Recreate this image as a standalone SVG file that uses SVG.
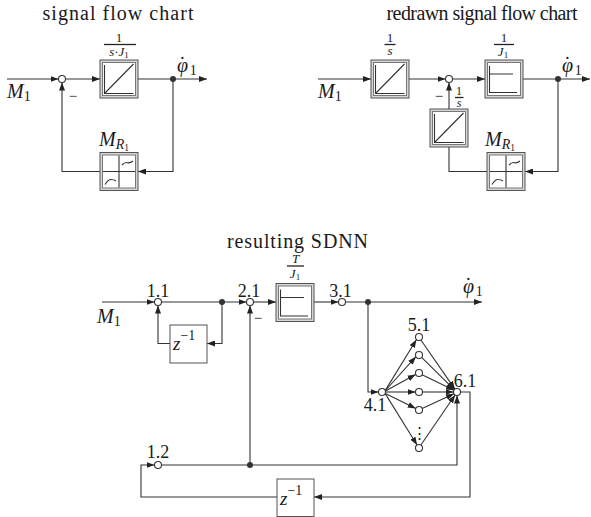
<svg xmlns="http://www.w3.org/2000/svg" xmlns:xlink="http://www.w3.org/1999/xlink" width="591" height="517" viewBox="0 0 591 517" font-family="'Liberation Serif', 'Times New Roman', Tinos, serif">
<style>
  .t{font-family:'Liberation Serif','Times New Roman',Tinos,serif;fill:#1a1a1a}
  .i{font-style:italic}
  .ln{fill:none;stroke:#333;stroke-width:1.1}
  .ar{fill:none;stroke:#333;stroke-width:1.1;marker-end:url(#ah)}
  .nd{fill:#fff;stroke:#333;stroke-width:1.1}
  .dot{fill:#333}
  .fb{stroke:#222;stroke-width:1.3}
  .sym{fill:none;stroke:#333;stroke-width:1.1}
</style>
<defs>
  <marker id="ah" viewBox="0 0 8 6" refX="8" refY="3" markerWidth="8" markerHeight="6" markerUnits="userSpaceOnUse" orient="auto">
    <path d="M0,0 L8,3 L0,6 z" fill="#222"/>
  </marker>
  <g id="dframe">
    <rect x="0" y="0" width="38" height="38" fill="#d6d6d6" stroke="#555" stroke-width="1"/>
    <rect x="2.5" y="2.5" width="33" height="33" fill="#fff" stroke="#777" stroke-width="1"/>
  </g>
  <g id="integ">
    <use xlink:href="#dframe"/>
    <path class="sym" d="M4.5,5 V33.5 H33.5 M4.5,33.5 L33.5,4"/>
  </g>
  <g id="prop">
    <use xlink:href="#dframe"/>
    <path class="sym" d="M4.5,6 V32.5 H32 M4.5,14 H28"/>
  </g>
  <g id="fric">
    <use xlink:href="#dframe"/>
    <path class="sym" d="M19,3 V35 M3,19 H35"/>
    <path class="sym" d="M22,12.5 Q25,9.5 27.5,10.2 T33,8.5"/>
    <path class="sym" d="M5,32 Q8,27 11,27 T16,28.5"/>
  </g>
</defs>

<!-- ============ signal flow chart ============ -->
<text class="t" x="118" y="19.5" font-size="20" text-anchor="middle" textLength="151" lengthAdjust="spacing">signal flow chart</text>

<g id="connectors-left">
  <path class="ar" d="M7,79 H58.5"/>
  <path class="ar" d="M65.5,79 H100"/>
  <path class="ar" d="M138,79 H207"/>
  <path class="ar" d="M173,79 V171.5 H138"/>
  <path class="ar" d="M100,171.5 H62 V82.5"/>
</g>
<g id="L_sum"><circle class="nd" cx="62" cy="79" r="3.5"/></g>
<g id="L_branch"><circle class="dot" cx="173" cy="79" r="3"/></g>
<g id="L_integrator">
  <use xlink:href="#integ" x="100" y="60"/>
  <text class="t" x="119" y="41.5" font-size="13" text-anchor="middle">1</text>
  <line class="fb" x1="104" y1="44.5" x2="136" y2="44.5"/>
  <text class="t" x="119" y="56" font-size="13" text-anchor="middle"><tspan class="i">s</tspan>·<tspan class="i">J</tspan><tspan font-size="9" dy="2">1</tspan></text>
</g>
<g id="L_friction">
  <use xlink:href="#fric" x="100" y="152.5"/>
  <text class="t" x="99" y="146" font-size="20"><tspan class="i">M</tspan><tspan class="i" font-size="14" dy="3">R</tspan><tspan font-size="9.5" dy="2">1</tspan></text>
</g>
<text class="t" x="7" y="98" font-size="20"><tspan class="i">M</tspan><tspan font-size="14" dy="3">1</tspan></text>
<text class="t" x="177" y="72" font-size="20"><tspan class="i">φ</tspan><tspan dx="-9" dy="-1">˙</tspan><tspan font-size="14" dx="4" dy="4">1</tspan></text>
<text class="t" x="73" y="101" font-size="15" text-anchor="middle">−</text>

<!-- ============ redrawn signal flow chart ============ -->
<text class="t" x="482" y="19.5" font-size="20" text-anchor="middle" textLength="191" lengthAdjust="spacing">redrawn signal flow chart</text>

<g id="connectors-right">
  <path class="ar" d="M318,79 H371"/>
  <path class="ar" d="M409,79 H445.5"/>
  <path class="ar" d="M452.5,79 H485"/>
  <path class="ar" d="M523,79 H590"/>
  <path class="ar" d="M558,79 V171.5 H525"/>
  <path class="ln" d="M487,171.5 H449 V147"/>
  <path class="ar" d="M449,109 V82.5"/>
</g>
<g id="R_integrator1">
  <use xlink:href="#integ" x="371" y="60"/>
  <text class="t" x="390" y="41.5" font-size="13" text-anchor="middle">1</text>
  <line class="fb" x1="384.5" y1="44.5" x2="395.5" y2="44.5"/>
  <text class="t i" x="390" y="55" font-size="13" text-anchor="middle">s</text>
</g>
<g id="R_sum"><circle class="nd" cx="449" cy="79" r="3.5"/></g>
<g id="R_gain">
  <use xlink:href="#prop" x="485" y="60"/>
  <text class="t" x="504" y="41.5" font-size="13" text-anchor="middle">1</text>
  <line class="fb" x1="494" y1="44.5" x2="514" y2="44.5"/>
  <text class="t" x="503" y="56" font-size="13" text-anchor="middle"><tspan class="i">J</tspan><tspan font-size="9" dy="2">1</tspan></text>
</g>
<g id="R_branch"><circle class="dot" cx="558" cy="79" r="3"/></g>
<g id="R_integrator2">
  <use xlink:href="#integ" x="430" y="109"/>
  <text class="t" x="459" y="94.5" font-size="12" text-anchor="middle">1</text>
  <line class="fb" x1="455" y1="97.5" x2="463.5" y2="97.5"/>
  <text class="t i" x="459" y="107" font-size="12" text-anchor="middle">s</text>
</g>
<g id="R_friction">
  <use xlink:href="#fric" x="487" y="152.5"/>
  <text class="t" x="485" y="146" font-size="20"><tspan class="i">M</tspan><tspan class="i" font-size="14" dy="3">R</tspan><tspan font-size="9.5" dy="2">1</tspan></text>
</g>
<text class="t" x="318" y="98" font-size="20"><tspan class="i">M</tspan><tspan font-size="14" dy="3">1</tspan></text>
<text class="t" x="562" y="72" font-size="20"><tspan class="i">φ</tspan><tspan dx="-9" dy="-1">˙</tspan><tspan font-size="14" dx="4" dy="4">1</tspan></text>
<text class="t" x="439" y="101" font-size="15" text-anchor="middle">−</text>

<!-- ============ resulting SDNN ============ -->
<text class="t" x="297.5" y="248" font-size="20" text-anchor="middle" textLength="141" lengthAdjust="spacing">resulting SDNN</text>

<g id="connectors-sdnn">
  <path class="ar" d="M102,302 H154.5"/>
  <path class="ar" d="M161.5,302 H246.5"/>
  <path class="ar" d="M253.5,302 H276"/>
  <path class="ar" d="M314,302 H338.5"/>
  <path class="ar" d="M345.5,302 H482"/>
  <path class="ar" d="M222,302 V343.5 H207"/>
  <path class="ar" d="M170,343.5 H158 V305.5"/>
  <path class="ar" d="M250,465 V305.5"/>
  <path class="ar" d="M368,302 V392 H378.5"/>
  <path class="ar" d="M385.3,390.4 L416.4,339.8"/>
  <path class="ar" d="M385.4,390.5 L415.9,356.7"/>
  <path class="ar" d="M385.4,391 L415.6,374.5"/>
  <path class="ar" d="M385.5,392 H415.5"/>
  <path class="ar" d="M385.4,393.6 L415.8,408.4"/>
  <path class="ar" d="M385.2,393.6 L417.1,445"/>
  <path class="ar" d="M420.9,340 L454.9,389.1"/>
  <path class="ar" d="M421.6,357.3 L454.3,389.6"/>
  <path class="ar" d="M422.1,374.8 L454,390.2"/>
  <path class="ar" d="M422.5,392 H453.5"/>
  <path class="ar" d="M422.2,408.6 L454,393.8"/>
  <path class="ar" d="M420.9,445 L455.1,395"/>
  <path class="ar" d="M460.5,392 H470 V497 H314"/>
  <path class="ar" d="M277,497 H141 V465 H154.5"/>
  <path class="ar" d="M161.5,465 H457 V395.5"/>
</g>
<g id="n11"><circle class="nd" cx="158" cy="302" r="3.5"/><text class="t" x="158" y="297" font-size="18" text-anchor="middle">1.1</text></g>
<g id="b1"><circle class="dot" cx="222" cy="302" r="3"/></g>
<g id="n21"><circle class="nd" cx="250" cy="302" r="3.5"/><text class="t" x="249" y="297" font-size="18" text-anchor="middle">2.1</text></g>
<g id="gainTJ">
  <use xlink:href="#prop" x="276" y="283.5"/>
  <text class="t i" x="295.5" y="263" font-size="13" text-anchor="middle">T</text>
  <line class="fb" x1="287" y1="266" x2="304" y2="266"/>
  <text class="t" x="295" y="278" font-size="13" text-anchor="middle"><tspan class="i">J</tspan><tspan font-size="9" dy="2">1</tspan></text>
</g>
<g id="n31"><circle class="nd" cx="342" cy="302" r="3.5"/><text class="t" x="340.5" y="297" font-size="18" text-anchor="middle">3.1</text></g>
<g id="b2"><circle class="dot" cx="368" cy="302" r="3"/></g>
<g id="delay1">
  <rect x="170" y="325" width="37" height="38" fill="#fff" stroke="#555" stroke-width="1"/>
  <text class="t" x="173" y="350" font-size="19"><tspan class="i">z</tspan><tspan font-size="14" dy="-10">−1</tspan></text>
</g>
<g id="n41"><circle class="nd" cx="382" cy="392" r="3.5"/><text class="t" x="375" y="411" font-size="18" text-anchor="middle">4.1</text></g>
<g id="n51"><circle class="nd" cx="419" cy="337" r="3.5"/><text class="t" x="419" y="331" font-size="18" text-anchor="middle">5.1</text></g>
<g id="n52"><circle class="nd" cx="419" cy="355" r="3.5"/></g>
<g id="n53"><circle class="nd" cx="419" cy="373" r="3.5"/></g>
<g id="n54"><circle class="nd" cx="419" cy="392" r="3.5"/></g>
<g id="n55"><circle class="nd" cx="419" cy="410" r="3.5"/></g>
<g id="n5n"><circle class="nd" cx="419" cy="448" r="3.5"/></g>
<text class="t" x="419" y="438" font-size="15" text-anchor="middle">⋮</text>
<g id="n61"><circle class="nd" cx="457" cy="392" r="3.5"/><text class="t" x="465" y="387" font-size="18" text-anchor="middle">6.1</text></g>
<g id="n12"><circle class="nd" cx="158" cy="465" r="3.5"/><text class="t" x="158" y="458" font-size="18" text-anchor="middle">1.2</text></g>
<g id="b3"><circle class="dot" cx="250" cy="465" r="3"/></g>
<g id="delay2">
  <rect x="277" y="479" width="37" height="37.5" fill="#fff" stroke="#555" stroke-width="1"/>
  <text class="t" x="280" y="505" font-size="19"><tspan class="i">z</tspan><tspan font-size="14" dy="-10">−1</tspan></text>
</g>
<text class="t" x="97" y="323" font-size="20"><tspan class="i">M</tspan><tspan font-size="14" dy="3">1</tspan></text>
<text class="t" x="463" y="293" font-size="20"><tspan class="i">φ</tspan><tspan dx="-9" dy="-1">˙</tspan><tspan font-size="14" dx="4" dy="4">1</tspan></text>
<text class="t" x="258" y="323" font-size="15" text-anchor="middle">−</text>
</svg>
